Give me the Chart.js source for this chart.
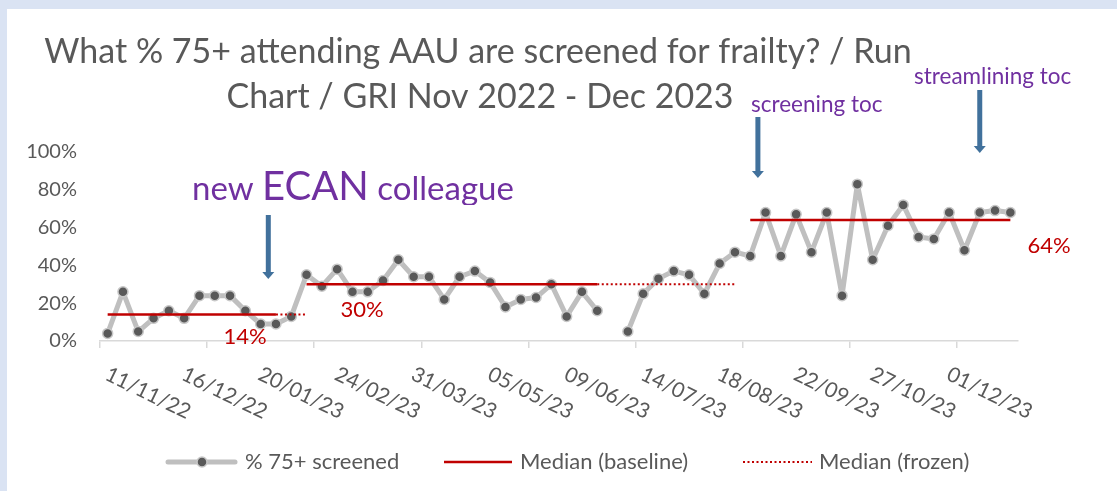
<!DOCTYPE html>
<html>
<head>
<meta charset="utf-8">
<title>Frailty screening run chart</title>
<script src="https://cdn.jsdelivr.net/npm/chart.js@4.4.0/dist/chart.umd.min.js"></script>
<style>
  html, body { margin: 0; padding: 0; background: #dae3f3; }
  #wrap { width: 1117px; height: 491px; }
</style>
</head>
<body>
<div id="wrap"><canvas id="graph" width="1117" height="491"></canvas></div>
<script>
// weekly data, week starting
var weeks = ["11/11/22", "18/11/22", "25/11/22", "02/12/22", "09/12/22", "16/12/22", "23/12/22", "30/12/22",
    "06/01/23", "13/01/23", "20/01/23", "27/01/23", "03/02/23", "10/02/23", "17/02/23", "24/02/23",
    "03/03/23", "10/03/23", "17/03/23", "24/03/23", "31/03/23", "07/04/23", "14/04/23", "21/04/23",
    "28/04/23", "05/05/23", "12/05/23", "19/05/23", "26/05/23", "02/06/23", "09/06/23", "16/06/23",
    "23/06/23", "30/06/23", "07/07/23", "14/07/23", "21/07/23", "28/07/23", "04/08/23", "11/08/23",
    "18/08/23", "25/08/23", "01/09/23", "08/09/23", "15/09/23", "22/09/23", "29/09/23", "06/10/23",
    "13/10/23", "20/10/23", "27/10/23", "03/11/23", "10/11/23", "17/11/23", "24/11/23", "01/12/23",
    "08/12/23", "15/12/23", "22/12/23", "29/12/23"];
var labelEvery = 5;   // a date label every 5 weeks
var tickEvery = 7;    // a tick mark every 7 weeks

// % of 75+ screened for frailty
var screened = [4, 26, 5, 12, 16, 12, 24, 24, 24, 16, 9, 9,
    13, 35, 29, 38, 26, 26, 32, 43, 34, 34, 22, 34,
    37, 31, 18, 22, 23, 30, 13, 26, 16, null, 5, 25,
    33, 37, 35, 25, 41, 47, 45, 68, 45, 67, 47, 68,
    24, 83, 43, 61, 72, 55, 54, 68, 48, 68, 69, 68];

// medians and the weeks (index from..to) they cover
var medianValues = [14, 30, 64];
var medianSolid = [[0, 11], [13, 32], [42, 59]];
var medianFrozen = [[11, 13], [32, 41]];

var yTicks = [0, 20, 40, 60, 80, 100];

function spread(ranges) {
    var out = weeks.map(function () { return null; });
    ranges.forEach(function (r, k) {
        for (var i = r[0]; i <= r[1]; i++) out[i] = medianValues[k];
    });
    return out;
}

var grey = "#595959";
var red = "#c00000";
var purple = "#7030a0";
var blue = "#41719c";

function arrow(c, x, y1, y2) {
    c.fillStyle = blue;
    c.fillRect(x - 2.5, y1, 5, y2 - y1 - 6);
    c.beginPath();
    c.moveTo(x - 6, y2 - 7);
    c.lineTo(x + 6, y2 - 7);
    c.lineTo(x, y2);
    c.closePath();
    c.fill();
}

var decor = {
    id: "decor",
    beforeDraw: function (chart) {
        var c = chart.ctx;
        c.save();
        c.fillStyle = "#dae3f3";
        c.fillRect(0, 0, chart.width, chart.height);
        c.fillStyle = "#ffffff";
        c.fillRect(7, 9, chart.width - 7, chart.height - 9);
        c.restore();
    },
    afterDraw: function (chart) {
        var c = chart.ctx;
        var xs = chart.scales.x;
        c.save();

        // title
        c.fillStyle = grey;
        c.font = "34px Lato";
        c.textAlign = "center";
        c.textBaseline = "alphabetic";
        c.fillText("What % 75+ attending AAU are screened for frailty? / Run", 478, 63);
        c.fillText("Chart / GRI Nov 2022 - Dec 2023", 480, 108);

        // rotated date labels
        c.font = "21px Lato";
        c.textAlign = "left";
        weeks.forEach(function (w, i) {
            if (i % labelEvery) return;
            c.save();
            c.translate(xs.getPixelForValue(i) - 4, 379);
            c.rotate(26 * Math.PI / 180);
            c.fillText(w, 0, 0);
            c.restore();
        });

        // median labels
        c.fillStyle = red;
        c.font = "22px Lato";
        c.textAlign = "center";
        c.textBaseline = "middle";
        c.fillText(medianValues[0] + "%", 245, 337);
        c.fillText(medianValues[1] + "%", 362, 310);
        c.fillText(medianValues[2] + "%", 1049, 246);

        // notes
        c.fillStyle = purple;
        c.textAlign = "left";
        c.textBaseline = "alphabetic";
        c.font = "22.5px Lato";
        c.fillText("screening toc", 751, 112);
        c.fillText("streamlining toc", 914, 84);

        c.save();
        c.beginPath();
        c.rect(0, 150, chart.width, 55);
        c.clip();
        var nx = 192;
        c.font = "33px Lato";
        c.fillText("new ", nx, 200);
        nx += c.measureText("new ").width;
        c.font = "40px Lato";
        c.fillText("ECAN", nx, 200);
        nx += c.measureText("ECAN").width;
        c.font = "33px Lato";
        c.fillText(" colleague", nx, 200);
        c.restore();

        arrow(c, xs.getPixelForValue(10.5), 215, 279);
        arrow(c, xs.getPixelForValue(42.5), 117, 178);
        arrow(c, xs.getPixelForValue(57), 90, 153);

        // legend
        var ly = 462;
        c.font = "22px Lato";
        c.textBaseline = "middle";
        c.lineCap = "round";
        c.strokeStyle = "#bfbfbf";
        c.lineWidth = 5;
        c.beginPath(); c.moveTo(168, ly); c.lineTo(235, ly); c.stroke();
        c.beginPath(); c.arc(202, ly, 5, 0, Math.PI * 2);
        c.fillStyle = grey; c.fill();
        c.lineWidth = 1.5; c.strokeStyle = "#c8c8c8"; c.stroke();
        c.fillStyle = grey;
        c.fillText("% 75+ screened", 245, ly);

        c.lineCap = "butt";
        c.strokeStyle = red;
        c.lineWidth = 2.5;
        c.beginPath(); c.moveTo(444, ly); c.lineTo(512, ly); c.stroke();
        c.fillText("Median (baseline)", 520, ly);

        c.lineWidth = 2;
        c.setLineDash([2, 2.5]);
        c.beginPath(); c.moveTo(743, ly); c.lineTo(812, ly); c.stroke();
        c.setLineDash([]);
        c.fillText("Median (frozen)", 819, ly);

        c.restore();
    }
};

Chart.defaults.font.family = "Lato";
Chart.defaults.color = grey;

var ctx = document.getElementById("graph").getContext("2d");
var lineChart = new Chart(ctx, {
    type: "line",
    data: {
        labels: weeks,
        datasets: [
            {
                label: "Median (baseline)",
                data: spread(medianSolid),
                borderColor: red,
                borderWidth: 2.5,
                pointRadius: 0,
                spanGaps: false,
                fill: false
            },
            {
                label: "Median (frozen)",
                data: spread(medianFrozen),
                borderColor: red,
                borderWidth: 2,
                borderDash: [2, 2.5],
                pointRadius: 0,
                spanGaps: false,
                fill: false
            },
            {
                label: "% 75+ screened",
                data: screened,
                borderColor: "#bfbfbf",
                borderWidth: 5,
                borderJoinStyle: "round",
                borderCapStyle: "round",
                pointRadius: 5,
                pointBorderWidth: 1.5,
                pointBackgroundColor: grey,
                pointBorderColor: "#c8c8c8",
                spanGaps: false,
                tension: 0,
                fill: false
            }
        ]
    },
    options: {
        responsive: false,
        animation: false,
        layout: { padding: { left: 0, top: 152, right: 99, bottom: 150 } },
        plugins: {
            legend: { display: false },
            title: { display: false },
            tooltip: { enabled: false }
        },
        scales: {
            x: {
                type: "category",
                offset: true,
                afterFit: function (scale) { scale.height = 0; },
                ticks: { display: false, autoSkip: false },
                grid: {
                    offset: true,
                    drawOnChartArea: false,
                    drawTicks: true,
                    tickLength: 7,
                    lineWidth: 1.5,
                    color: function (c) {
                        return c.index % tickEvery === 0 ? "#d9d9d9" : "rgba(0,0,0,0)";
                    }
                },
                border: { display: true, color: "#d9d9d9", width: 1.5 }
            },
            y: {
                min: 0,
                max: 100,
                afterFit: function (scale) { scale.width = 100; },
                afterBuildTicks: function (scale) {
                    scale.ticks = yTicks.map(function (v) { return { value: v }; });
                },
                ticks: {
                    padding: 23,
                    font: { size: 20 },
                    color: grey,
                    callback: function (v) { return v + "%"; }
                },
                grid: { display: false, drawTicks: false },
                border: { display: false }
            }
        }
    },
    plugins: [decor]
});
</script>
</body>
</html>
